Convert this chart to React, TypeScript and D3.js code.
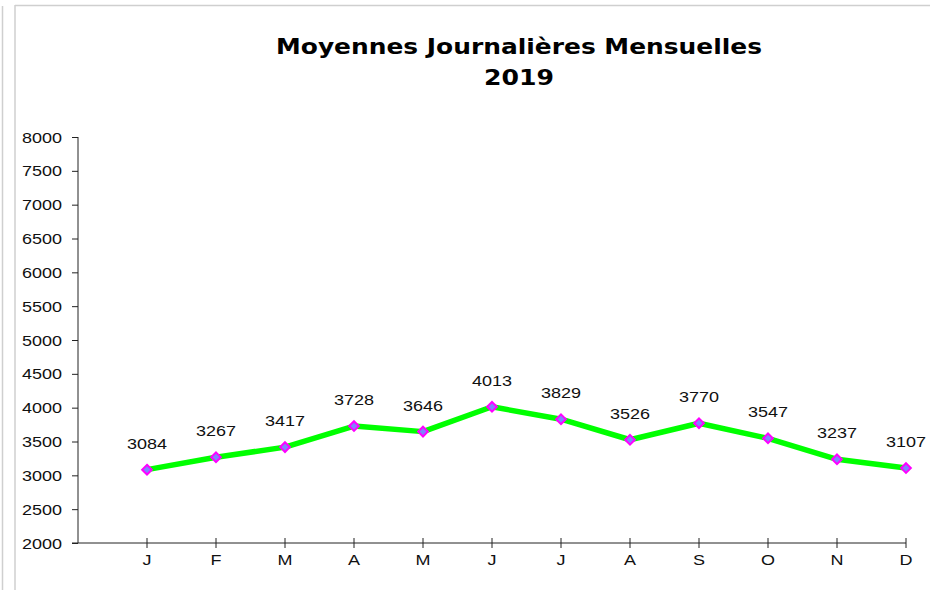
import React, { useEffect, useRef } from "react";
import * as d3 from "d3";

const width = 930;
const height = 590;

const months = ["J", "F", "M", "A", "M", "J", "J", "A", "S", "O", "N", "D"];
const values = [3084, 3267, 3417, 3728, 3646, 4013, 3829, 3526, 3770, 3547, 3237, 3107];
const yTicks = [2000, 2500, 3000, 3500, 4000, 4500, 5000, 5500, 6000, 6500, 7000, 7500, 8000];
const titleLines = ["Moyennes Journalières Mensuelles", "2019"];

const labelFont = "'Liberation Sans', Arial, sans-serif";

export default function App() {
  const ref = useRef<SVGSVGElement | null>(null);

  useEffect(() => {
    const svg = d3.select(ref.current);
    svg.selectAll("*").remove();

    // cadre gris autour du graphique
    svg.append("line").attr("x1", 2.5).attr("y1", 6).attr("x2", 2.5).attr("y2", height)
      .attr("stroke", "#cfcfcf").attr("stroke-width", 1.5);
    svg.append("line").attr("x1", 15).attr("y1", 5).attr("x2", 15).attr("y2", height)
      .attr("stroke", "#cfcfcf").attr("stroke-width", 1.5);
    svg.append("line").attr("x1", 15).attr("y1", 5.5).attr("x2", width).attr("y2", 5.5)
      .attr("stroke", "#cfcfcf").attr("stroke-width", 1.5);

    // titre
    svg.selectAll(".title")
      .data(titleLines)
      .enter()
      .append("text")
      .attr("class", "title")
      .attr("x", 519)
      .attr("y", (d, i) => 54 + i * 31)
      .attr("text-anchor", "middle")
      .attr("textLength", (d, i) => (i === 0 ? 486 : 70))
      .attr("lengthAdjust", "spacingAndGlyphs")
      .style("font-family", "'DejaVu Sans', sans-serif")
      .style("font-weight", "bold")
      .style("font-size", "21px")
      .style("fill", "#000")
      .text((d) => d);

    const x = d3.scaleLinear().domain([-1, 11]).range([78, 906]);
    const y = d3.scaleLinear().domain([2000, 8000]).range([543, 137]);

    // axe vertical
    const yAxis = svg.append("g").attr("transform", "translate(78,0)")
      .call(d3.axisLeft(y).tickValues(yTicks).tickSize(6).tickPadding(0).tickFormat(d3.format("d")));
    yAxis.select(".domain").attr("stroke", "#222").attr("d", `M0,${y(8000)}V${y(2000)}`);
    yAxis.selectAll(".tick line").attr("stroke", "#222");
    yAxis.selectAll(".tick text").remove();

    // libellés de l'axe vertical (police étirée comme dans Excel)
    svg.selectAll(".ylab")
      .data(yTicks)
      .enter()
      .append("text")
      .attr("class", "ylab")
      .attr("transform", (d) => `translate(62,${y(d) + 5.5}) scale(1.2,1)`)
      .attr("text-anchor", "end")
      .style("font-family", labelFont)
      .style("font-size", "15px")
      .style("fill", "#111")
      .text((d) => d);

    // axe horizontal
    const xg = svg.append("g");
    xg.append("line").attr("x1", 72).attr("x2", 906).attr("y1", 543).attr("y2", 543)
      .attr("stroke", "#222");
    xg.selectAll(".xtick")
      .data(months)
      .enter()
      .append("line")
      .attr("class", "xtick")
      .attr("x1", (d, i) => x(i))
      .attr("x2", (d, i) => x(i))
      .attr("y1", 538)
      .attr("y2", 548)
      .attr("stroke", "#222");
    xg.selectAll(".xlab")
      .data(months)
      .enter()
      .append("text")
      .attr("class", "xlab")
      .attr("transform", (d, i) => `translate(${x(i)},565) scale(1.2,1)`)
      .attr("text-anchor", "middle")
      .style("font-family", labelFont)
      .style("font-size", "15px")
      .style("fill", "#111")
      .text((d) => d);

    // courbe
    const line = d3.line<number>()
      .x((d, i) => x(i))
      .y((d) => y(d));

    svg.append("path")
      .datum(values)
      .attr("fill", "none")
      .attr("stroke", "#00ff00")
      .attr("stroke-width", 5.5)
      .attr("stroke-linejoin", "round")
      .attr("d", line);

    // marqueurs losanges
    const diamond = d3.symbol().type(d3.symbolDiamond2).size(60);
    svg.selectAll(".pt")
      .data(values)
      .enter()
      .append("path")
      .attr("class", "pt")
      .attr("transform", (d, i) => `translate(${x(i)},${y(d)})`)
      .attr("d", diamond)
      .attr("fill", "#8080ff")
      .attr("stroke", "#ff00ff")
      .attr("stroke-width", 2);

    // étiquettes de valeurs
    svg.selectAll(".vlab")
      .data(values)
      .enter()
      .append("text")
      .attr("class", "vlab")
      .attr("transform", (d, i) => `translate(${x(i)},${y(d) - 21}) scale(1.2,1)`)
      .attr("text-anchor", "middle")
      .style("font-family", labelFont)
      .style("font-size", "15px")
      .style("fill", "#111")
      .text((d) => d);
  }, []);

  return (
    <svg
      ref={ref}
      width={width}
      height={height}
      style={{ position: "absolute", left: 0, top: 0, background: "#fff", display: "block" }}
    />
  );
}
